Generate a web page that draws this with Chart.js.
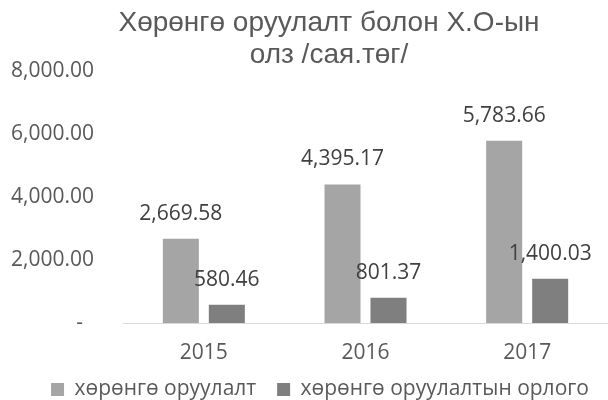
<!DOCTYPE html>
<html>
<head>
<meta charset="utf-8">
<script src="https://cdn.jsdelivr.net/npm/chart.js@4"></script>
<style>
  html, body { margin: 0; padding: 0; background: #fff; }
  #wrap { width: 608px; height: 400px; }
</style>
</head>
<body>
<div id="wrap"><canvas id="investChart"></canvas></div>
<script>
const years = ['2015', '2016', '2017'];
const investment = [2669.58, 4395.17, 5783.66];
const investmentIncome = [580.46, 801.37, 1400.03];
const seriesNames = ['хөрөнгө оруулалт', 'хөрөнгө оруулалтын орлого'];
const titleLines = ['Хөрөнгө оруулалт болон Х.О-ын', 'олз /сая.төг/'];
const yTicks = [0, 2000, 4000, 6000, 8000];

const labelFont = '"Open Sans", "Noto Sans", sans-serif';
const fmt = v => v.toLocaleString('en-US', { minimumFractionDigits: 2, maximumFractionDigits: 2 });

// draws the value above each bar (no datalabels plugin available)
const valueLabels = {
    id: 'valueLabels',
    afterDatasetsDraw(chart) {
        const ctx = chart.ctx;
        ctx.save();
        ctx.font = '21px ' + labelFont;
        ctx.fillStyle = '#404040';
        ctx.textAlign = 'center';
        ctx.textBaseline = 'middle';
        chart.data.datasets.forEach((ds, di) => {
            chart.getDatasetMeta(di).data.forEach((bar, i) => {
                const text = fmt(ds.data[i]);
                const w = ctx.measureText(text).width;
                let x = bar.x;
                if (x + w / 2 > chart.width - 1) x = chart.width - 1 - w / 2;
                ctx.fillText(text, x, bar.y - 25);
            });
        });
        ctx.restore();
    }
};

// the original centres title and legend a bit right of the canvas middle
const shiftBlocks = {
    id: 'shiftBlocks',
    afterLayout(chart) {
        chart.titleBlock.left += 50;
        chart.legend.left += 32;
    }
};

new Chart(document.getElementById('investChart'), {
    type: 'bar',
    data: {
        labels: years,
        datasets: [{
            label: seriesNames[0],
            data: investment,
            backgroundColor: '#a5a5a5',
            borderWidth: 0
        }, {
            label: seriesNames[1],
            data: investmentIncome,
            backgroundColor: '#7f7f7f',
            borderWidth: 0
        }]
    },
    options: {
        responsive: true,
        maintainAspectRatio: false,
        animation: false,
        datasets: {
            bar: {
                categoryPercentage: 0.569,
                barPercentage: 0.783
            }
        },
        layout: {
            padding: { left: 0, right: 0, top: 0, bottom: -10 }
        },
        scales: {
            x: {
                grid: { display: false, drawTicks: false },
                border: { display: true, color: '#d9d9d9', width: 1 },
                ticks: {
                    color: '#595959',
                    padding: 17,
                    font: { family: labelFont, size: 21 }
                },
                afterFit: s => { s.height = 46; }
            },
            y: {
                min: 0,
                max: 8000,
                afterBuildTicks: s => { s.ticks = yTicks.map(v => ({ value: v })); },
                grid: { display: false, drawTicks: false },
                border: { display: false },
                ticks: {
                    color: '#595959',
                    padding: 29,
                    font: { family: labelFont, size: 21 },
                    callback: v => v === 0 ? '-  ' : fmt(v)
                },
                afterFit: s => { s.width = 123; }
            }
        },
        plugins: {
            title: {
                display: true,
                text: titleLines,
                color: '#595959',
                font: { family: '"Liberation Sans", Arial, sans-serif', size: 28, weight: 'normal', lineHeight: 1.14 },
                padding: { top: 7, bottom: 0 }
            },
            legend: {
                position: 'bottom',
                labels: {
                    color: '#595959',
                    boxWidth: 13,
                    boxHeight: 13,
                    padding: 10,
                    font: { family: labelFont, size: 21 },
                    generateLabels: chart => {
                        const items = Chart.defaults.plugins.legend.labels.generateLabels(chart);
                        items.forEach((it, i) => {
                            it.lineWidth = 0;
                            if (i < items.length - 1) it.text += '  ';
                        });
                        return items;
                    }
                }
            },
            tooltip: { enabled: false }
        }
    },
    plugins: [valueLabels, shiftBlocks]
});
</script>
</body>
</html>
